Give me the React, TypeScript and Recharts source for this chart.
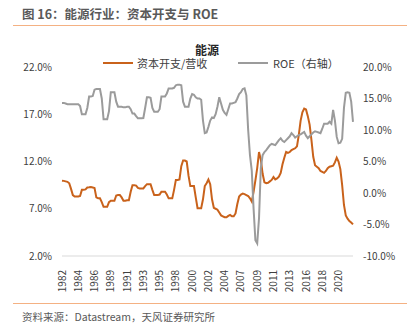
import React from "react";
import { LineChart, Line, XAxis, YAxis } from "recharts";

// 季度数据，1982Q2 起
const quarters: string[] = [];
for (let i = 0; i < 162; i++) {
  const t = 1982 * 4 + 1 + i;
  quarters.push(`${Math.floor(t / 4)}Q${(t % 4) + 1}`);
}

// 资本开支/营收（左轴，%）
const capexRatio = [
  9.97, 9.95, 9.9, 9.85, 9.7, 9.1, 8.45, 8.3, 8.3, 8.3,
  8.35, 9.0, 9.0, 9.05, 9.25, 9.27, 9.3, 9.25, 9.2, 8.2,
  8.1, 8.1, 7.7, 7.2, 7.2, 7.2, 7.7, 7.85, 7.85, 7.85,
  8.4, 8.45, 8.45, 8.2, 7.85, 7.85, 7.9, 7.9, 8.8, 9.5,
  9.5, 9.45, 9.2, 9.15, 9.15, 9.15, 9.4, 9.6, 9.6, 9.6,
  9.0, 8.45, 8.45, 8.45, 8.5, 8.8, 8.8, 8.8, 8.5, 8.1,
  8.1, 8.1, 9.0, 10.05, 10.05, 10.1, 11.5, 12.1, 12.1, 12.0,
  10.5, 9.4, 9.4, 9.4, 8.2, 7.05, 7.05, 7.05, 8.0, 9.4,
  9.7, 10.1, 9.6, 8.0, 7.1, 7.0, 6.9, 6.6, 6.3, 6.2,
  6.1, 6.1, 6.25, 6.35, 6.2, 6.2, 6.5, 7.5, 8.3, 8.5,
  8.6, 8.55, 8.45, 8.35, 8.1, 7.75, 8.8, 10.0, 11.3, 13.0,
  12.2, 10.7, 9.8, 9.7, 9.75, 9.9, 10.05, 10.35, 10.1, 10.2,
  10.4, 10.8, 11.7, 12.4, 13.0, 12.9, 13.0, 13.2, 13.3, 13.4,
  13.6, 14.8, 16.3, 17.2, 17.6, 17.5, 16.8, 15.9, 14.3, 12.5,
  11.6, 11.45, 11.3, 11.0, 10.9, 10.8, 11.0, 11.3, 11.45, 11.5,
  11.55, 11.9, 12.4, 12.0, 11.2, 9.5, 7.4, 6.3, 5.95, 5.7,
  5.55, 5.35,
];

// ROE（右轴，%）
const roe = [
  14.3, 14.3, 14.2, 14.1, 14.1, 14.1, 14.1, 14.1, 14.1, 14.1,
  13.8, 12.5, 12.5, 12.5, 13.5, 15.3, 15.3, 15.4, 16.4, 16.5,
  16.5, 16.5, 15.0, 11.7, 11.7, 11.7, 13.0, 16.0, 16.0, 16.0,
  14.5, 13.7, 13.7, 13.7, 13.6, 13.6, 13.7, 13.7, 13.3, 12.6,
  12.6, 12.2, 11.85, 11.85, 11.85, 11.9, 13.5, 15.2, 15.2, 15.1,
  13.5, 12.9, 12.9, 12.9, 13.3, 15.3, 15.3, 15.3, 15.8, 16.6,
  16.6, 16.6, 16.7, 17.1, 17.2, 17.2, 17.1, 14.5, 13.7, 13.7,
  13.7, 15.0, 15.7, 15.6, 15.2, 15.0, 15.0, 14.8, 11.5, 9.5,
  9.6, 10.5, 11.5, 12.0, 11.9, 12.5, 13.7, 15.2, 14.2, 13.2,
  12.7, 12.4, 13.3, 14.2, 14.2, 14.3, 14.4, 15.0, 15.7, 16.0,
  16.5, 16.6, 15.5, 10.0, 6.0, 3.5, -2.5, -7.5, -8.0, -4.0,
  4.0, 6.0, 6.5, 6.8, 7.2, 7.6, 7.8, 7.7, 7.6, 8.0,
  8.4, 8.7, 8.3, 8.1, 8.4, 8.7, 9.0, 9.5, 9.2, 8.8,
  9.0, 9.2, 9.3, 9.5, 9.7, 9.1, 8.7, 9.0, 9.3, 9.6,
  9.8, 9.7, 9.6, 9.5, 10.2, 11.0, 11.0, 11.0, 11.3, 11.0,
  13.2, 11.5, 8.9, 7.9, 8.0, 8.6, 13.5, 15.9, 16.0, 15.9,
  14.5, 11.3,
];

const leftTicks = [2, 7, 12, 17, 22];
const rightTicks = [-10, -5, 0, 5, 10, 15, 20];

const data = quarters.map((q, i) => ({ q, capex: capexRatio[i], roe: roe[i] }));

const FONT = '"Noto Sans CJK SC", "Noto Sans", sans-serif';
const ORANGE = "#C9621B";
const GRAY = "#9B9B9B";

const pct = (v: number) => `${v.toFixed(1)}%`;

const YearTick = (props: any) => {
  const { x, y, payload } = props;
  return (
    <text
      transform={`translate(${x},${y + 6}) rotate(-90)`}
      textAnchor="end"
      dy="0.35em"
      fontSize={10}
      fill="#404040"
      fontFamily={FONT}
    >
      {String(payload.value).slice(0, 4)}
    </text>
  );
};

export default function App() {
  return (
    <div style={{ position: "absolute", left: 0, top: 0, width: 414, height: 332, background: "#fff", fontFamily: FONT }}>
      <div style={{ position: "absolute", left: 22, top: 4, fontSize: 12.5, fontWeight: "bold", color: "#595959", whiteSpace: "nowrap" }}>
        图 16：能源行业：资本开支与 ROE
      </div>
      <div style={{ position: "absolute", left: 13, top: 25, width: 394, height: 1, background: "#F4B183" }} />
      <div style={{ position: "absolute", left: 0, width: 414, top: 41, textAlign: "center", fontSize: 12, fontWeight: "bold", color: "#262626" }}>
        能源
      </div>

      {/* 图例 */}
      <div style={{ position: "absolute", left: 0, top: 55, width: 414, height: 16, fontSize: 11, color: "#404040" }}>
        <div style={{ position: "absolute", left: 103, top: 7, width: 30, height: 2, background: ORANGE }} />
        <span style={{ position: "absolute", left: 137, top: 0, whiteSpace: "nowrap" }}>资本开支/营收</span>
        <div style={{ position: "absolute", left: 238, top: 7, width: 30, height: 2, background: GRAY }} />
        <span style={{ position: "absolute", left: 273, top: 0, whiteSpace: "nowrap" }}>ROE（右轴）</span>
      </div>

      <LineChart width={414} height={332} data={data} margin={{ top: 67, right: 0, bottom: 36, left: 0 }}>
        <XAxis
          dataKey="q"
          interval={8}
          tick={<YearTick />}
          tickLine={false}
          axisLine={{ stroke: "#D9D9D9" }}
          height={40}
        />
        <YAxis
          yAxisId="left"
          orientation="left"
          domain={[2, 22]}
          ticks={leftTicks}
          tickFormatter={pct}
          axisLine={false}
          tickLine={false}
          tickMargin={4}
          width={62}
          tick={{ fontSize: 10, fill: "#404040", fontFamily: FONT }}
        />
        <YAxis
          yAxisId="right"
          orientation="right"
          domain={[-10, 20]}
          ticks={rightTicks}
          tickFormatter={pct}
          axisLine={false}
          tickLine={false}
          tickMargin={4}
          width={61}
          tick={{ fontSize: 10, fill: "#404040", fontFamily: FONT }}
        />
        <Line yAxisId="left" type="linear" dataKey="capex" name="资本开支/营收" stroke={ORANGE} strokeWidth={2} dot={false} isAnimationActive={false} />
        <Line yAxisId="right" type="linear" dataKey="roe" name="ROE（右轴）" stroke={GRAY} strokeWidth={2} dot={false} isAnimationActive={false} />
      </LineChart>

      <div style={{ position: "absolute", left: 13, top: 303, width: 394, height: 1, background: "#F4B183" }} />
      <div style={{ position: "absolute", left: 22, top: 309, fontSize: 10.5, color: "#595959", whiteSpace: "nowrap" }}>
        资料来源：Datastream，天风证券研究所
      </div>
    </div>
  );
}
